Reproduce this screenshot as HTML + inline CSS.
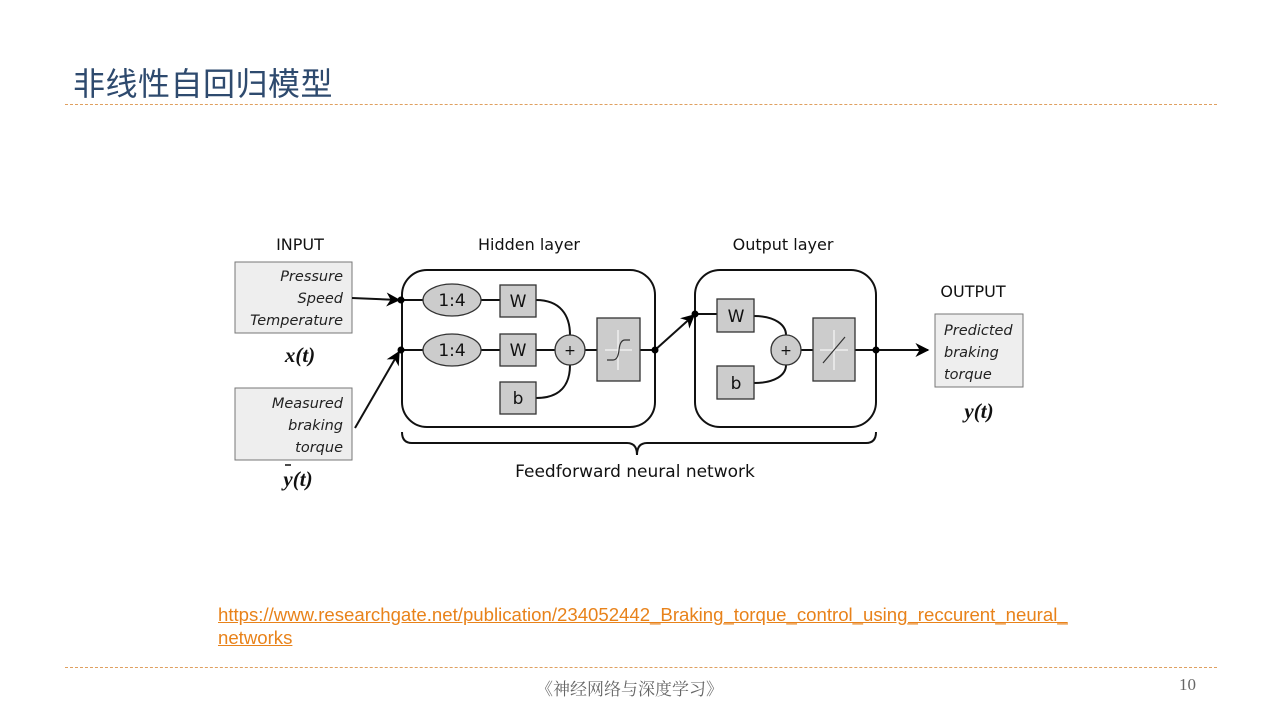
<!DOCTYPE html>
<html><head><meta charset="utf-8"><style>
body{margin:0;width:1280px;height:720px;background:#fff;position:relative;overflow:hidden;font-family:"Liberation Sans","Noto Sans CJK SC",sans-serif}
.t{position:absolute;left:73px;top:59px;font-size:32px;letter-spacing:0.5px;color:#2e4a6e;font-family:"Liberation Sans","Noto Sans CJK SC",sans-serif}
.dl{position:absolute;left:65px;width:1152px;border-top:1px dashed #e0a060}
.link{position:absolute;left:218px;top:603px;font-size:18.6px;line-height:23px;color:#e8821a;text-decoration:underline}
.ft{position:absolute;top:675px;font-size:17px;color:#666;font-family:"Liberation Serif","Noto Serif CJK SC",serif}
</style></head><body>
<div class="t">非线性自回归模型</div>
<div class="dl" style="top:104px"></div>
<div class="dl" style="top:667px"></div>
<div class="link">https://www.researchgate.net/publication/234052442_Braking_torque_control_using_reccurent_neural_<br>networks</div>
<div class="ft" style="left:536px">《神经网络与深度学习》</div>
<div class="ft" style="left:1179px">10</div>
<svg width="1280" height="720" style="position:absolute;left:0;top:0" font-family="DejaVu Sans, sans-serif">
<defs><marker id="a" viewBox="0 0 10 10" refX="9" refY="5" markerWidth="7" markerHeight="7" orient="auto"><path d="M0,0 L10,5 L0,10 L3,5z" fill="#000"/></marker></defs>
<g font-size="16" text-anchor="middle" fill="#111">
<text x="300" y="250">INPUT</text><text x="529" y="250">Hidden layer</text><text x="783" y="250">Output layer</text><text x="973" y="297">OUTPUT</text>
<text x="635" y="477" font-size="17">Feedforward neural network</text></g>
<g fill="#eee" stroke="#777"><rect x="235" y="262" width="117" height="71"/><rect x="235" y="388" width="117" height="72"/><rect x="935" y="314" width="88" height="73"/></g>
<g font-size="14.5" font-style="italic" fill="#222" text-anchor="end">
<text x="343" y="281">Pressure</text><text x="343" y="303">Speed</text><text x="343" y="325">Temperature</text>
<text x="343" y="408">Measured</text><text x="343" y="430">braking</text><text x="343" y="452">torque</text></g>
<g font-size="14.5" font-style="italic" fill="#222"><text x="944" y="335">Predicted</text><text x="944" y="357">braking</text><text x="944" y="379">torque</text></g>
<g font-family="Liberation Serif, serif" font-weight="bold" font-style="italic" font-size="21" text-anchor="middle" fill="#111">
<text x="300" y="362">x(t)</text><text x="298" y="486">y(t)</text><text x="979" y="418">y(t)</text></g>
<line x1="285" y1="465" x2="291" y2="465" stroke="#111" stroke-width="1.5"/>
<g fill="none" stroke="#111" stroke-width="2">
<rect x="402" y="270" width="253" height="157" rx="25"/><rect x="695" y="270" width="181" height="157" rx="25"/>
<line x1="402" y1="300" x2="500" y2="300"/><line x1="402" y1="350" x2="500" y2="350"/>
<line x1="536" y1="350" x2="555" y2="350"/><line x1="585" y1="350" x2="597" y2="350"/>
<path d="M536,300 C560,300 570,315 570,335"/><path d="M536,398 C560,398 570,385 570,365"/>
<line x1="640" y1="350" x2="655" y2="350"/>
<line x1="695" y1="314" x2="717" y2="314"/>
<path d="M754,316 C775,316 786,325 786,335"/><path d="M754,383 C775,383 786,375 786,365"/>
<line x1="801" y1="350" x2="813" y2="350"/><line x1="855" y1="350" x2="876" y2="350"/>
<line x1="352" y1="298" x2="399" y2="300" marker-end="url(#a)"/>
<line x1="355" y1="428" x2="399" y2="352" marker-end="url(#a)"/>
<line x1="655" y1="350" x2="694" y2="315" marker-end="url(#a)"/>
<line x1="876" y1="350" x2="928" y2="350" marker-end="url(#a)"/>
<path d="M402,432 Q402,443 412,443 L627,443 Q637,443 637,455 Q637,443 647,443 L866,443 Q876,443 876,432"/>
</g>
<g fill="#000"><circle cx="401" cy="300" r="3.5"/><circle cx="401" cy="350" r="3.5"/><circle cx="655" cy="350" r="3.5"/><circle cx="695" cy="314" r="3.5"/><circle cx="876" cy="350" r="3.5"/></g>
<g fill="#ccc" stroke="#333" stroke-width="1.3">
<ellipse cx="452" cy="300" rx="29" ry="16"/><ellipse cx="452" cy="350" rx="29" ry="16"/>
<rect x="500" y="285" width="36" height="32"/><rect x="500" y="334" width="36" height="32"/><rect x="500" y="382" width="36" height="32"/>
<circle cx="570" cy="350" r="15"/><rect x="597" y="318" width="43" height="63"/>
<rect x="717" y="299" width="37" height="33"/><rect x="717" y="366" width="37" height="33"/>
<circle cx="786" cy="350" r="15"/><rect x="813" y="318" width="42" height="63"/></g>
<g font-size="17" text-anchor="middle" fill="#111">
<text x="452" y="306">1:4</text><text x="452" y="356">1:4</text>
<text x="518" y="307">W</text><text x="518" y="356">W</text><text x="518" y="404">b</text>
<text x="736" y="322">W</text><text x="736" y="389">b</text></g>
<g font-size="14" text-anchor="middle" fill="#111"><text x="570" y="355">+</text><text x="786" y="355">+</text></g>
<g stroke="#fff" stroke-width="1" fill="none"><line x1="618" y1="330" x2="618" y2="370"/><line x1="605" y1="350" x2="632" y2="350"/><line x1="834" y1="330" x2="834" y2="370"/><line x1="820" y1="350" x2="848" y2="350"/></g>
<g stroke="#333" stroke-width="1.2" fill="none"><path d="M607,360 L613,360 Q618,360 619,350 Q620,340 625,340 L630,340"/><line x1="823" y1="363" x2="845" y2="337"/></g>
</svg>
</body></html>
